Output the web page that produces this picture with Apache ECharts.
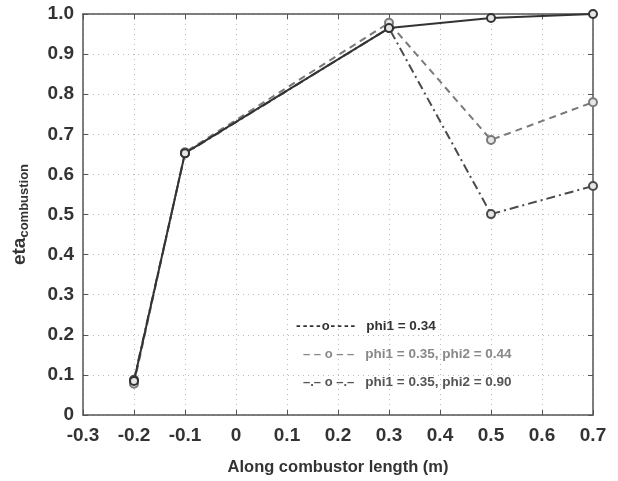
<!DOCTYPE html>
<html>
<head>
<meta charset="utf-8">
<script src="https://cdn.jsdelivr.net/npm/echarts@6/dist/echarts.min.js"></script>
<style>html,body{margin:0;padding:0;background:#fff;}#c{width:618px;height:481px;}</style>
</head>
<body>
<div id="c"></div>
<script>
const xPositions = [-0.2, -0.1, 0.3, 0.5, 0.7];
const seriesNames = ['phi1 = 0.34', 'phi1 = 0.35, phi2 = 0.44', 'phi1 = 0.35, phi2 = 0.90'];
const eta1 = [0.085, 0.653, 0.965, 0.99, 1.0];
const eta2 = [0.078, 0.655, 0.978, 0.686, 0.78];
const eta3 = [0.088, 0.652, 0.965, 0.501, 0.571];
const xTicks = [-0.3, -0.2, -0.1, 0, 0.1, 0.2, 0.3, 0.4, 0.5, 0.6, 0.7];
const yTicks = [0, 0.1, 0.2, 0.3, 0.4, 0.5, 0.6, 0.7, 0.8, 0.9, 1.0];

const colors = ['#333333', '#7a7a7a', '#4a4a4a'];
const lineTypes = ['solid', [7, 5], [9, 4, 2, 4]];
const allEta = [eta1, eta2, eta3];

const chart = echarts.init(document.getElementById('c'));
const font = 'Liberation Sans, Arial, sans-serif';
const fmtX = v => { const t = xTicks.find(k => Math.abs(k - v) < 1e-9); return t === undefined ? '' : (t === 0 ? '0' : t.toFixed(1)); };
const fmtY = v => { const t = yTicks.find(k => Math.abs(k - v) < 1e-9); return t === undefined ? '' : (t === 0 ? '0' : t.toFixed(1)); };

const dash4 = '{h|-}{h|-}{h|-}{h|-}';
const legendFormats = [
  n => dash4 + '{o0|o}' + dash4 + '{t0|' + n + '}',
  n => '{s|}{p1|– – o – –}{t1|' + n + '}',
  n => '{s|}{p2|–.– o –.–}{t2|' + n + '}'
];

const series = allEta.map((arr, i) => ({
  name: seriesNames[i],
  type: 'line',
  xAxisIndex: 0, yAxisIndex: 0,
  data: xPositions.map((x, j) => [x, arr[j]]),
  symbol: 'circle',
  symbolSize: 8,
  showSymbol: true,
  itemStyle: { color: '#e6e6e6', borderColor: colors[i], borderWidth: 2 },
  lineStyle: { color: colors[i], width: 2, type: lineTypes[i] },
  emphasis: { disabled: true },
  z: 3 - i
}));

const axisLineStyle = { color: '#555', width: 1.5 };
const tickStyle = { show: true, inside: true, length: 5, lineStyle: { color: '#555' } };

chart.setOption({
  animation: false,
  backgroundColor: '#fff',
  grid: { left: 83, top: 14, right: 25, bottom: 66, containLabel: false },
  legend: {
    orient: 'vertical',
    left: 290, top: 319,
    icon: 'none',
    itemWidth: 0, itemHeight: 14,
    itemGap: 14,
    selectedMode: false,
    padding: 0,
    formatter: name => legendFormats[seriesNames.indexOf(name)](name),
    textStyle: {
      rich: {
        h: { fontFamily: font, fontSize: 14, fontWeight: 'bold', color: '#333', padding: [0, 1, 0, 1] },
        o0: { fontFamily: font, fontSize: 13, fontWeight: 'bold', color: '#333' },
        t0: { fontFamily: font, fontSize: 13.5, fontWeight: 'bold', color: '#333', padding: [0, 0, 0, 10] },
        s: { width: 8 },
        p1: { fontFamily: font, fontSize: 13, fontWeight: 'bold', color: '#888' },
        t1: { fontFamily: font, fontSize: 13.5, fontWeight: 'bold', color: '#888', padding: [0, 0, 0, 11] },
        p2: { fontFamily: font, fontSize: 13, fontWeight: 'bold', color: '#555' },
        t2: { fontFamily: font, fontSize: 13.5, fontWeight: 'bold', color: '#555', padding: [0, 0, 0, 11] }
      }
    },
    data: seriesNames
  },
  xAxis: [{
    type: 'value', min: -0.3, max: 0.7, interval: 0.1,
    position: 'bottom',
    name: 'Along combustor length (m)',
    nameLocation: 'middle', nameGap: 44,
    nameTextStyle: { fontFamily: font, fontSize: 16.5, fontWeight: 'bold', color: '#333' },
    axisLine: { show: true, onZero: false, lineStyle: axisLineStyle },
    axisTick: tickStyle,
    axisLabel: { formatter: fmtX, fontFamily: font, fontSize: 19, fontWeight: 'bold', color: '#333', margin: 11 },
    splitLine: { show: true, lineStyle: { color: '#bbb', type: [1, 4], width: 1 } }
  }, {
    type: 'value', min: -0.3, max: 0.7, interval: 0.1,
    position: 'top',
    axisLine: { show: true, onZero: false, lineStyle: axisLineStyle },
    axisTick: tickStyle,
    axisLabel: { show: false },
    splitLine: { show: false }
  }],
  yAxis: [{
    type: 'value', min: 0, max: 1, interval: 0.1,
    position: 'left',
    name: '{a|eta}{b|combustion}',
    nameLocation: 'middle', nameGap: 52, nameRotate: 90,
    nameTextStyle: {
      rich: {
        a: { fontFamily: font, fontSize: 19, fontWeight: 'bold', color: '#333' },
        b: { fontFamily: font, fontSize: 13, fontWeight: 'bold', color: '#333', padding: [9, 0, 0, 0] }
      }
    },
    axisLine: { show: true, onZero: false, lineStyle: axisLineStyle },
    axisTick: tickStyle,
    axisLabel: { formatter: fmtY, fontFamily: font, fontSize: 19, fontWeight: 'bold', color: '#333', margin: 9, padding: [4, 0, 0, 0] },
    splitLine: { show: true, lineStyle: { color: '#bbb', type: [1, 4], width: 1 } }
  }, {
    type: 'value', min: 0, max: 1, interval: 0.1,
    position: 'right',
    axisLine: { show: true, onZero: false, lineStyle: axisLineStyle },
    axisTick: tickStyle,
    axisLabel: { show: false },
    splitLine: { show: false }
  }],
  series: series
});
</script>
</body>
</html>
